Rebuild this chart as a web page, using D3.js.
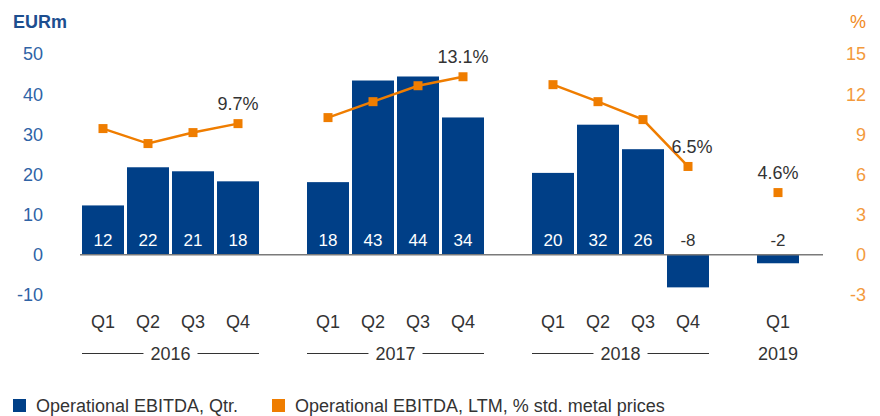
<!DOCTYPE html>
<html>
<head>
<meta charset="utf-8">
<script src="https://cdn.jsdelivr.net/npm/d3@7"></script>
<style>
  body { margin: 0; background: #fff; }
  svg text { font-family: "Liberation Sans", Arial, sans-serif; }
</style>
</head>
<body>
<div id="chart"></div>
<script>
// data
var years = ["2016", "2017", "2018", "2019"];
var quarters = [
  ["Q1", "Q2", "Q3", "Q4"],
  ["Q1", "Q2", "Q3", "Q4"],
  ["Q1", "Q2", "Q3", "Q4"],
  ["Q1"]
];
var ebitdaQtr = [
  [12.3, 21.8, 20.8, 18.3],
  [18.1, 43.4, 44.4, 34.2],
  [20.4, 32.4, 26.3, -8.1],
  [-2.1]
];
var ltmPct = [
  [9.43, 8.31, 9.13, 9.8],
  [10.25, 11.44, 12.63, 13.3],
  [12.71, 11.44, 10.1, 6.6],
  [4.65]
];
var pctLabels = ["9.7%", "13.1%", "6.5%", "4.6%"];
var leftTicks = [-10, 0, 10, 20, 30, 40, 50];
var rightTicks = [-3, 0, 3, 6, 9, 12, 15];

(function() {
  var width = 880, height = 416;
  var blue = "#003f87", orange = "#ef7d00";

  var svg = d3.select("#chart")
    .append("svg")
    .attr("width", width)
    .attr("height", height);

  // flat rows + slot keys (an empty slot between years)
  var rows = [];
  var slots = [];
  years.forEach(function(y, i) {
    quarters[i].forEach(function(q, j) {
      var key = y + q;
      slots.push(key);
      rows.push({year: y, yi: i, q: q, key: key, v: ebitdaQtr[i][j], p: ltmPct[i][j]});
    });
    if (i < years.length - 1) slots.push("gap" + i);
  });

  var x = d3.scaleBand().domain(slots).range([79, 802]).padding(1 / 15);
  var yL = d3.scaleLinear().domain([-10, 50]).range([295, 54]);
  var yR = d3.scaleLinear().domain([-3, 15]).range([295, 54]);

  // axis titles
  svg.append("text")
    .attr("x", 13).attr("y", 28)
    .style("font-size", "18px").style("font-weight", "bold")
    .attr("fill", "#1d4e8f")
    .text("EURm");
  svg.append("text")
    .attr("x", 866).attr("y", 28)
    .attr("text-anchor", "end")
    .style("font-size", "18px")
    .attr("fill", "#f18a1c")
    .text("%");

  // tick labels
  svg.selectAll(".ltick")
    .data(leftTicks)
    .enter().append("text")
    .attr("class", "ltick")
    .attr("x", 43)
    .attr("y", function(d) { return yL(d); })
    .attr("dy", "0.36em")
    .attr("text-anchor", "end")
    .style("font-size", "18px")
    .attr("fill", "#2f63a6")
    .text(function(d) { return d; });

  svg.selectAll(".rtick")
    .data(rightTicks)
    .enter().append("text")
    .attr("class", "rtick")
    .attr("x", 866)
    .attr("y", function(d) { return yR(d); })
    .attr("dy", "0.36em")
    .attr("text-anchor", "end")
    .style("font-size", "18px")
    .attr("fill", "#f39a3c")
    .text(function(d) { return d; });

  // bars
  svg.selectAll(".bar")
    .data(rows)
    .enter().append("rect")
    .attr("class", "bar")
    .attr("x", function(d) { return x(d.key); })
    .attr("width", x.bandwidth())
    .attr("y", function(d) { return yL(Math.max(0, d.v)); })
    .attr("height", function(d) { return Math.abs(yL(d.v) - yL(0)); })
    .attr("fill", blue);

  // zero line
  svg.append("line")
    .attr("x1", 80).attr("x2", 823)
    .attr("y1", yL(0)).attr("y2", yL(0))
    .attr("stroke", "#7a7a7a")
    .attr("stroke-width", 1.5);

  // bar value labels
  svg.selectAll(".blabel")
    .data(rows)
    .enter().append("text")
    .attr("class", "blabel")
    .attr("x", function(d) { return x(d.key) + x.bandwidth() / 2; })
    .attr("y", yL(0) - 15)
    .attr("dy", "0.36em")
    .attr("text-anchor", "middle")
    .style("font-size", "17px")
    .attr("fill", function(d) { return d.v < 0 ? "#333" : "#fff"; })
    .text(function(d) { return Math.round(d.v); });

  // LTM line, one segment per year
  var line = d3.line()
    .x(function(d) { return x(d.key) + x.bandwidth() / 2; })
    .y(function(d) { return yR(d.p); });

  years.forEach(function(y, i) {
    var seg = rows.filter(function(r) { return r.yi === i; });
    svg.append("path")
      .datum(seg)
      .attr("d", line)
      .attr("fill", "none")
      .attr("stroke", orange)
      .attr("stroke-width", 2.5);
  });

  svg.selectAll(".marker")
    .data(rows)
    .enter().append("rect")
    .attr("class", "marker")
    .attr("x", function(d) { return x(d.key) + x.bandwidth() / 2 - 4.5; })
    .attr("y", function(d) { return yR(d.p) - 4.5; })
    .attr("width", 9).attr("height", 9)
    .attr("fill", orange);

  // % labels over last point of each year
  years.forEach(function(y, i) {
    var seg = rows.filter(function(r) { return r.yi === i; });
    var last = seg[seg.length - 1];
    svg.append("text")
      .attr("x", x(last.key) + x.bandwidth() / 2 + (i === 2 ? 4 : 0))
      .attr("y", yR(last.p) - 20)
      .attr("dy", "0.36em")
      .attr("text-anchor", "middle")
      .style("font-size", "18px")
      .attr("fill", "#333")
      .text(pctLabels[i]);
  });

  // quarter labels
  svg.selectAll(".qlabel")
    .data(rows)
    .enter().append("text")
    .attr("class", "qlabel")
    .attr("x", function(d) { return x(d.key) + x.bandwidth() / 2; })
    .attr("y", 322)
    .attr("dy", "0.36em")
    .attr("text-anchor", "middle")
    .style("font-size", "18px")
    .attr("fill", "#333")
    .text(function(d) { return d.q; });

  // year labels with rules either side
  years.forEach(function(y, i) {
    var seg = rows.filter(function(r) { return r.yi === i; });
    var x0 = x(seg[0].key), x1 = x(seg[seg.length - 1].key) + x.bandwidth();
    var cx = (x0 + x1) / 2;
    var t = svg.append("text")
      .attr("x", cx).attr("y", 354)
      .attr("dy", "0.36em")
      .attr("text-anchor", "middle")
      .style("font-size", "18px")
      .attr("fill", "#333")
      .text(y);
    if (seg.length > 1) {
      var w = t.node().getComputedTextLength();
      [[x0, cx - w / 2 - 7], [cx + w / 2 + 7, x1]].forEach(function(s) {
        svg.append("line")
          .attr("x1", s[0]).attr("x2", s[1])
          .attr("y1", 353.5).attr("y2", 353.5)
          .attr("stroke", "#333").attr("stroke-width", 1);
      });
    }
  });

  // legend
  var legend = [
    {label: "Operational EBITDA, Qtr.", color: blue, x: 13},
    {label: "Operational EBITDA, LTM, % std. metal prices", color: orange, x: 272}
  ];
  var lg = svg.selectAll(".legend")
    .data(legend)
    .enter().append("g")
    .attr("class", "legend")
    .attr("transform", function(d) { return "translate(" + d.x + ",399)"; });
  lg.append("rect")
    .attr("width", 13).attr("height", 13)
    .attr("fill", function(d) { return d.color; });
  lg.append("text")
    .attr("x", 23).attr("y", 7)
    .attr("dy", "0.36em")
    .style("font-size", "18px")
    .attr("fill", "#333")
    .text(function(d) { return d.label; });
})();
</script>
</body>
</html>
